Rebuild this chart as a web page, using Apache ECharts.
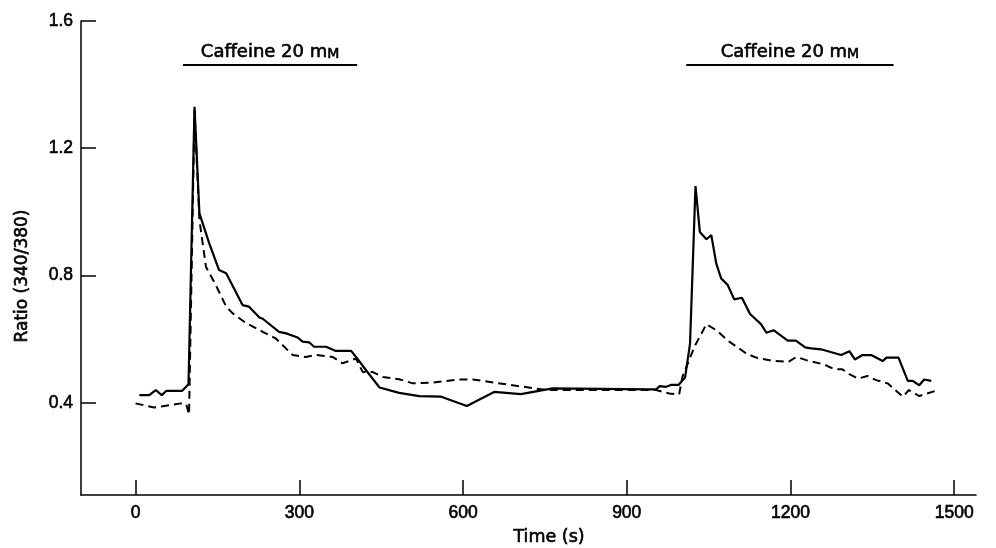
<!DOCTYPE html>
<html>
<head>
<meta charset="utf-8">
<script src="https://cdn.jsdelivr.net/npm/echarts@6/dist/echarts.min.js"></script>
<style>html,body{margin:0;padding:0;background:#fff}#c{width:996px;height:548px}</style>
</head>
<body>
<div id="c"></div>
<script>
// Time (s) and ratio values, solid trace
const solidTime = [7,25,37,48,56,85,97,108,117,135,153,166,196,208,227,233,263,276,297,306,318,327,349,367,395,404,422,447,483,520,560,607,657,706,764,941,954,960,972,981,995,1007,1016,1026,1034,1046,1055,1064,1073,1085,1097,1111,1126,1146,1156,1169,1195,1210,1227,1238,1256,1293,1308,1318,1332,1348,1369,1376,1398,1415,1424,1436,1445,1458];
const solidRatio = [0.424,0.424,0.440,0.424,0.437,0.437,0.458,1.330,0.995,0.901,0.817,0.807,0.707,0.702,0.668,0.664,0.623,0.618,0.605,0.592,0.590,0.576,0.576,0.563,0.563,0.544,0.503,0.448,0.431,0.421,0.419,0.390,0.434,0.427,0.445,0.442,0.442,0.452,0.450,0.456,0.456,0.480,0.586,1.081,0.937,0.914,0.927,0.838,0.791,0.770,0.725,0.730,0.679,0.647,0.620,0.628,0.595,0.595,0.574,0.571,0.568,0.550,0.562,0.536,0.550,0.550,0.531,0.542,0.542,0.469,0.469,0.455,0.473,0.469];
// dashed trace
const dashTime = [0,34,83,93,98,108,117,129,147,166,178,202,233,257,288,312,331,361,379,404,416,434,453,483,508,544,593,618,752,954,978,996,1002,1024,1046,1064,1088,1119,1137,1167,1197,1211,1229,1262,1280,1295,1308,1324,1341,1357,1378,1406,1417,1436,1465];
const dashRatio = [0.398,0.385,0.398,0.395,0.363,1.320,0.974,0.827,0.770,0.702,0.681,0.651,0.623,0.602,0.550,0.544,0.550,0.544,0.524,0.539,0.497,0.497,0.481,0.474,0.461,0.463,0.473,0.473,0.440,0.440,0.429,0.426,0.481,0.576,0.647,0.628,0.592,0.555,0.542,0.532,0.529,0.544,0.534,0.520,0.506,0.505,0.490,0.476,0.484,0.471,0.461,0.419,0.440,0.421,0.437];
// tick labels
const xTicks = [0,300,600,900,1200,1500];
const yTicks = [0.4,0.8,1.2,1.6];
// caffeine application periods [start, end] and bar level
const caffeinePeriods = [[87,406],[1009,1389]];
const caffeineLevel = 1.463;
const caffeineLabel = ['Caffeine 20 m','M'];

const ink = '#000';
const thick = {textBorderColor: ink, textBorderWidth: 0.6};
const chart = echarts.init(document.getElementById('c'));
const zip = (a,b) => a.map((v,i)=>[v,b[i]]);
chart.setOption({
  animation: false,
  backgroundColor: '#fff',
  grid: {left: 81, top: 21, width: 895, height: 474, containLabel: false},
  xAxis: {
    type: 'value', min: -100, max: 1540,
    axisLine: {show: true, onZero: false, lineStyle: {color: ink, width: 1.5}},
    axisTick: {show: true, inside: true, length: 15, customValues: xTicks, lineStyle: {color: ink, width: 1.5}},
    axisLabel: Object.assign({customValues: xTicks, color: ink, fontSize: 17.5, fontFamily: 'Liberation Sans', margin: 9,
      formatter: v => String(v)}, thick),
    splitLine: {show: false}
  },
  yAxis: {
    type: 'value', min: 0.11, max: 1.6,
    axisLine: {show: true, onZero: false, lineStyle: {color: ink, width: 1.5}},
    axisTick: {show: true, inside: true, length: 15, customValues: yTicks, lineStyle: {color: ink, width: 1.5}},
    axisLabel: Object.assign({customValues: yTicks, color: ink, fontSize: 17.5, fontFamily: 'Liberation Sans', margin: 8,
      formatter: v => v.toFixed(1)}, thick),
    splitLine: {show: false}
  },
  graphic: [
    {type: 'text', x: 549, y: 537, style: {text: 'Time (s)', align: 'center', verticalAlign: 'middle', fontSize: 17.5, fontFamily: 'DejaVu Sans', fill: ink, stroke: ink, lineWidth: 0.6}},
    {type: 'text', x: 23, y: 276, rotation: Math.PI/2, style: {text: 'Ratio (340/380)', align: 'center', verticalAlign: 'middle', fontSize: 17, fontFamily: 'DejaVu Sans', fill: ink, stroke: ink, lineWidth: 0.6}}
  ],
  series: [
    {
      type: 'line', data: zip(solidTime, solidRatio), symbol: 'none', silent: true,
      lineStyle: {color: ink, width: 2.2},
      markLine: {
        silent: true, symbol: 'none', animation: false,
        lineStyle: {color: ink, width: 2, type: 'solid'},
        label: {
          show: true, position: 'insideMiddleTop', distance: 3,
          formatter: '{a|' + caffeineLabel[0] + '}{b|' + caffeineLabel[1] + '}',
          rich: {
            a: Object.assign({fontSize: 18, fontFamily: 'DejaVu Sans', color: ink}, thick),
            b: Object.assign({fontSize: 14, fontFamily: 'DejaVu Sans', color: ink, verticalAlign: 'bottom'}, thick)
          }
        },
        data: caffeinePeriods.map(p => [{coord: [p[0], caffeineLevel]}, {coord: [p[1], caffeineLevel]}])
      }
    },
    {
      type: 'line', data: zip(dashTime, dashRatio), symbol: 'none', silent: true,
      lineStyle: {color: ink, width: 2, type: [8, 5]}
    }
  ]
});
</script>
</body>
</html>
